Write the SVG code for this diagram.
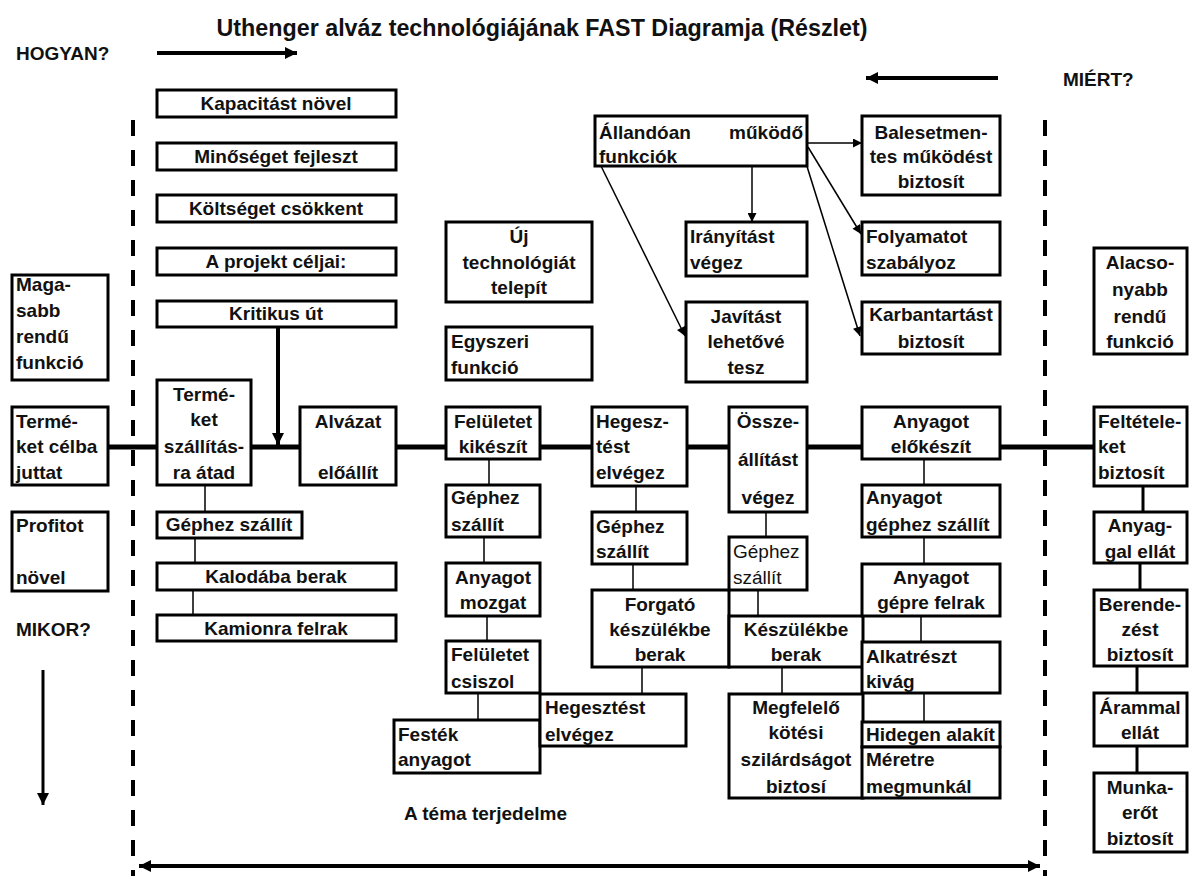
<svg xmlns="http://www.w3.org/2000/svg" width="1189" height="876" viewBox="0 0 1189 876">
<style>
.box{fill:#fff;stroke:#000;stroke-width:3}
text{font-family:"Liberation Sans",Arial,sans-serif;font-weight:bold;font-size:19px;fill:#111}
.c{text-anchor:middle}
.r{text-anchor:end}
.reg{font-weight:normal}
.thin{stroke:#000;stroke-width:1.5;fill:none}
.mid{stroke:#000;stroke-width:3;fill:none}
.main{stroke:#000;stroke-width:5;fill:none}
.dash{stroke:#000;stroke-width:4;stroke-dasharray:16 14;fill:none}
</style>
<defs>
<marker id="ah" markerUnits="userSpaceOnUse" viewBox="0 0 10 10" markerWidth="10" markerHeight="9" refX="10" refY="5" orient="auto"><path d="M0,0 L10,5 L0,10 z" fill="#000"/></marker>
<marker id="ahb" markerUnits="userSpaceOnUse" viewBox="0 0 10 10" markerWidth="14" markerHeight="12" refX="10" refY="5" orient="auto-start-reverse"><path d="M0,0 L10,5 L0,10 z" fill="#000"/></marker>
</defs>
<rect width="1189" height="876" fill="#fff"/>
<text x="542" y="36" class="c" style="font-size:23px" textLength="651" lengthAdjust="spacingAndGlyphs">Uthenger alváz technológiájának FAST Diagramja (Részlet)</text>
<g id="labels">
<text x="16" y="60">HOGYAN?</text>
<text x="1063" y="86">MIÉRT?</text>
<text x="16" y="636">MIKOR?</text>
<text x="404" y="820">A téma terjedelme</text>
</g>
<g id="connectors">
<line class="dash" x1="133" y1="120" x2="133" y2="876"/>
<line class="dash" x1="1045" y1="120" x2="1045" y2="876"/>
<line class="main" style="stroke-width:4" x1="157" y1="53" x2="297" y2="53" marker-end="url(#ahb)"/>
<line class="main" style="stroke-width:4" x1="998" y1="78" x2="866" y2="78" marker-end="url(#ahb)"/>
<line class="mid" x1="43" y1="670" x2="43" y2="805" marker-end="url(#ahb)"/>
<line class="main" x1="139" y1="866" x2="1040" y2="866" style="stroke-width:4" marker-start="url(#ahb)" marker-end="url(#ahb)"/>
<path class="main" d="M108,447 H157 M251,447 H300 M396,447 H446 M540,447 H592 M687,447 H729 M807,447 H862 M1000,447 H1094"/>
<line class="main" style="stroke-width:4" x1="278" y1="327" x2="278" y2="445" marker-end="url(#ahb)"/>
<path class="thin" d="M205,485 V512 M195,538 V563 M193,590 V615 M489,459 V485 M484,537 V563 M487,616 V641 M478,693 V720 M642,667 V694 M636,486 V512 M633,564 V590 M766,512 V537 M758,590 V616 M782,667 V694 M924,459 V485 M924,537 V564 M921,616 V642 M924,693 V722"/>
<path class="mid" d="M1143,486 V512 M1140,563 V590 M1137,666 V693 M1137,746 V773"/>
<line class="thin" x1="807" y1="143" x2="862" y2="143" marker-end="url(#ah)"/>
<line class="thin" x1="752" y1="166" x2="752" y2="222" marker-end="url(#ah)"/>
<line class="thin" x1="601" y1="166" x2="685" y2="336" marker-end="url(#ah)"/>
<line class="thin" x1="808" y1="147" x2="861" y2="234" marker-end="url(#ah)"/>
<line class="thin" x1="805" y1="160" x2="860" y2="336" marker-end="url(#ah)"/>
</g>
<g id="n-magasabb"><rect class="box" x="12" y="275" width="96" height="105"/><text x="16" y="291">Maga-</text><text x="16" y="317">sabb</text><text x="16" y="343">rendű</text><text x="16" y="369">funkció</text></g>
<g id="n-termeket-celba"><rect class="box" x="12" y="407" width="96" height="78"/><text x="16" y="428">Termé-</text><text x="16" y="453">ket célba</text><text x="16" y="479">juttat</text></g>
<g id="n-profitot"><rect class="box" x="12" y="512" width="96" height="79"/><text x="16" y="532">Profitot</text><text x="16" y="584">növel</text></g>
<g id="n-kapacitas"><rect class="box" x="157" y="90" width="239" height="27"/><text x="276" y="110" class="c">Kapacitást növel</text></g>
<g id="n-minoseg"><rect class="box" x="157" y="143" width="239" height="27"/><text x="276" y="163" class="c">Minőséget fejleszt</text></g>
<g id="n-koltseg"><rect class="box" x="157" y="195" width="239" height="27"/><text x="276" y="215" class="c">Költséget csökkent</text></g>
<g id="n-projekt"><rect class="box" x="157" y="248" width="239" height="27"/><text x="276" y="268" class="c">A projekt céljai:</text></g>
<g id="n-kritikus"><rect class="box" x="157" y="301" width="239" height="26"/><text x="276" y="320" class="c">Kritikus út</text></g>
<g id="n-termeket-szall"><rect class="box" x="157" y="380" width="94" height="105"/><text x="204" y="401" class="c">Termé-</text><text x="204" y="426" class="c">ket</text><text x="204" y="453" class="c">szállítás-</text><text x="204" y="479" class="c">ra átad</text></g>
<g id="n-alvazat"><rect class="box" x="300" y="407" width="96" height="78"/><text x="348" y="428" class="c">Alvázat</text><text x="348" y="479" class="c">előállít</text></g>
<g id="n-gephez1"><rect class="box" x="157" y="512" width="145" height="26"/><text x="229" y="531" class="c">Géphez szállít</text></g>
<g id="n-kaloda"><rect class="box" x="157" y="563" width="239" height="27"/><text x="276" y="583" class="c">Kalodába berak</text></g>
<g id="n-kamion"><rect class="box" x="157" y="615" width="239" height="26"/><text x="276" y="635" class="c">Kamionra felrak</text></g>
<g id="n-ujtech"><rect class="box" x="446" y="222" width="146" height="80"/><text x="519" y="243" class="c">Új</text><text x="519" y="269" class="c">technológiát</text><text x="519" y="294" class="c">telepít</text></g>
<g id="n-egyszeri"><rect class="box" x="446" y="327" width="146" height="53"/><text x="451" y="348">Egyszeri</text><text x="451" y="374">funkció</text></g>
<g id="n-feluletet-kik"><rect class="box" x="446" y="407" width="94" height="52"/><text x="493" y="428" class="c">Felületet</text><text x="493" y="453" class="c">kikészít</text></g>
<g id="n-gephez2"><rect class="box" x="446" y="485" width="94" height="52"/><text x="451" y="504">Géphez</text><text x="451" y="531">szállít</text></g>
<g id="n-mozgat"><rect class="box" x="446" y="563" width="94" height="53"/><text x="493" y="584" class="c">Anyagot</text><text x="493" y="609" class="c">mozgat</text></g>
<g id="n-csiszol"><rect class="box" x="446" y="641" width="94" height="52"/><text x="451" y="661">Felületet</text><text x="451" y="688">csiszol</text></g>
<g id="n-festek"><rect class="box" x="394" y="720" width="146" height="53"/><text x="398" y="741">Festék</text><text x="398" y="766">anyagot</text></g>
<g id="n-hegesztest2"><rect class="box" x="540" y="694" width="146" height="52"/><text x="545" y="714">Hegesztést</text><text x="545" y="741">elvégez</text></g>
<g id="n-hegesz"><rect class="box" x="592" y="407" width="95" height="79"/><text x="596" y="428">Hegesz-</text><text x="596" y="453">tést</text><text x="596" y="479">elvégez</text></g>
<g id="n-gephez3"><rect class="box" x="592" y="512" width="95" height="52"/><text x="596" y="533">Géphez</text><text x="596" y="558">szállít</text></g>
<g id="n-forgato"><rect class="box" x="592" y="590" width="137" height="77"/><text x="660" y="611" class="c">Forgató</text><text x="660" y="636" class="c">készülékbe</text><text x="660" y="661" class="c">berak</text></g>
<g id="n-ossze"><rect class="box" x="729" y="407" width="78" height="105"/><text x="768" y="428" class="c">Össze-</text><text x="768" y="466" class="c">állítást</text><text x="768" y="504" class="c">végez</text></g>
<g id="n-gephez4"><rect class="box" x="729" y="537" width="78" height="53"/><text x="733" y="558" class="reg">Géphez</text><text x="733" y="584" class="reg">szállít</text></g>
<g id="n-keszulekbe"><rect class="box" x="729" y="616" width="134" height="51"/><text x="796" y="636" class="c">Készülékbe</text><text x="796" y="661" class="c">berak</text></g>
<g id="n-megfelelo"><rect class="box" x="729" y="694" width="134" height="104"/><text x="796" y="714" class="c">Megfelelő</text><text x="796" y="739" class="c">kötési</text><text x="796" y="766" class="c">szilárdságot</text><text x="796" y="793" class="c">biztosí</text></g>
<g id="n-allandoan"><rect class="box" x="595" y="116" width="212" height="50"/><text x="599" y="139">Állandóan</text><text x="803" y="139" class="r">működő</text><text x="599" y="163">funkciók</text></g>
<g id="n-balesetmen"><rect class="box" x="862" y="116" width="138" height="79"/><text x="931" y="139" class="c">Balesetmen-</text><text x="931" y="163" class="c">tes működést</text><text x="931" y="188" class="c">biztosít</text></g>
<g id="n-iranyitas"><rect class="box" x="686" y="222" width="121" height="54"/><text x="690" y="243">Irányítást</text><text x="690" y="269">végez</text></g>
<g id="n-javitas"><rect class="box" x="686" y="302" width="121" height="80"/><text x="746" y="323" class="c">Javítást</text><text x="746" y="348" class="c">lehetővé</text><text x="746" y="374" class="c">tesz</text></g>
<g id="n-folyamatot"><rect class="box" x="862" y="222" width="138" height="53"/><text x="866" y="243">Folyamatot</text><text x="866" y="269">szabályoz</text></g>
<g id="n-karbantart"><rect class="box" x="862" y="302" width="138" height="52"/><text x="931" y="321" class="c">Karbantartást</text><text x="931" y="348" class="c">biztosít</text></g>
<g id="n-anyagot-elok"><rect class="box" x="862" y="407" width="138" height="52"/><text x="931" y="428" class="c">Anyagot</text><text x="931" y="453" class="c">előkészít</text></g>
<g id="n-anyagot-gephez"><rect class="box" x="862" y="485" width="138" height="52"/><text x="866" y="504">Anyagot</text><text x="866" y="531">géphez szállít</text></g>
<g id="n-anyagot-gepre"><rect class="box" x="862" y="564" width="138" height="52"/><text x="931" y="584" class="c">Anyagot</text><text x="931" y="609" class="c">gépre felrak</text></g>
<g id="n-alkatresz"><rect class="box" x="862" y="642" width="138" height="51"/><text x="866" y="663">Alkatrészt</text><text x="866" y="688">kivág</text></g>
<g id="n-hidegen"><rect class="box" x="862" y="722" width="138" height="25"/><text x="866" y="741">Hidegen alakít</text></g>
<g id="n-meretre"><rect class="box" x="862" y="747" width="138" height="51"/><text x="866" y="766">Méretre</text><text x="866" y="793">megmunkál</text></g>
<g id="n-alacso"><rect class="box" x="1094" y="248" width="93" height="106"/><text x="1140" y="269" class="c">Alacso-</text><text x="1140" y="296" class="c">nyabb</text><text x="1140" y="323" class="c">rendű</text><text x="1140" y="348" class="c">funkció</text></g>
<g id="n-felteteleket"><rect class="box" x="1094" y="407" width="93" height="79"/><text x="1098" y="428">Feltétele-</text><text x="1098" y="453">ket</text><text x="1098" y="479">biztosít</text></g>
<g id="n-anyaggal"><rect class="box" x="1094" y="512" width="93" height="51"/><text x="1140" y="532" class="c">Anyag-</text><text x="1140" y="558" class="c">gal ellát</text></g>
<g id="n-berendezest"><rect class="box" x="1094" y="590" width="93" height="76"/><text x="1140" y="611" class="c">Berende-</text><text x="1140" y="636" class="c">zést</text><text x="1140" y="661" class="c">biztosít</text></g>
<g id="n-arammal"><rect class="box" x="1094" y="693" width="93" height="53"/><text x="1140" y="714" class="c">Árammal</text><text x="1140" y="739" class="c">ellát</text></g>
<g id="n-munka"><rect class="box" x="1094" y="773" width="93" height="79"/><text x="1140" y="794" class="c">Munka-</text><text x="1140" y="819" class="c">erőt</text><text x="1140" y="845" class="c">biztosít</text></g>
</svg>
